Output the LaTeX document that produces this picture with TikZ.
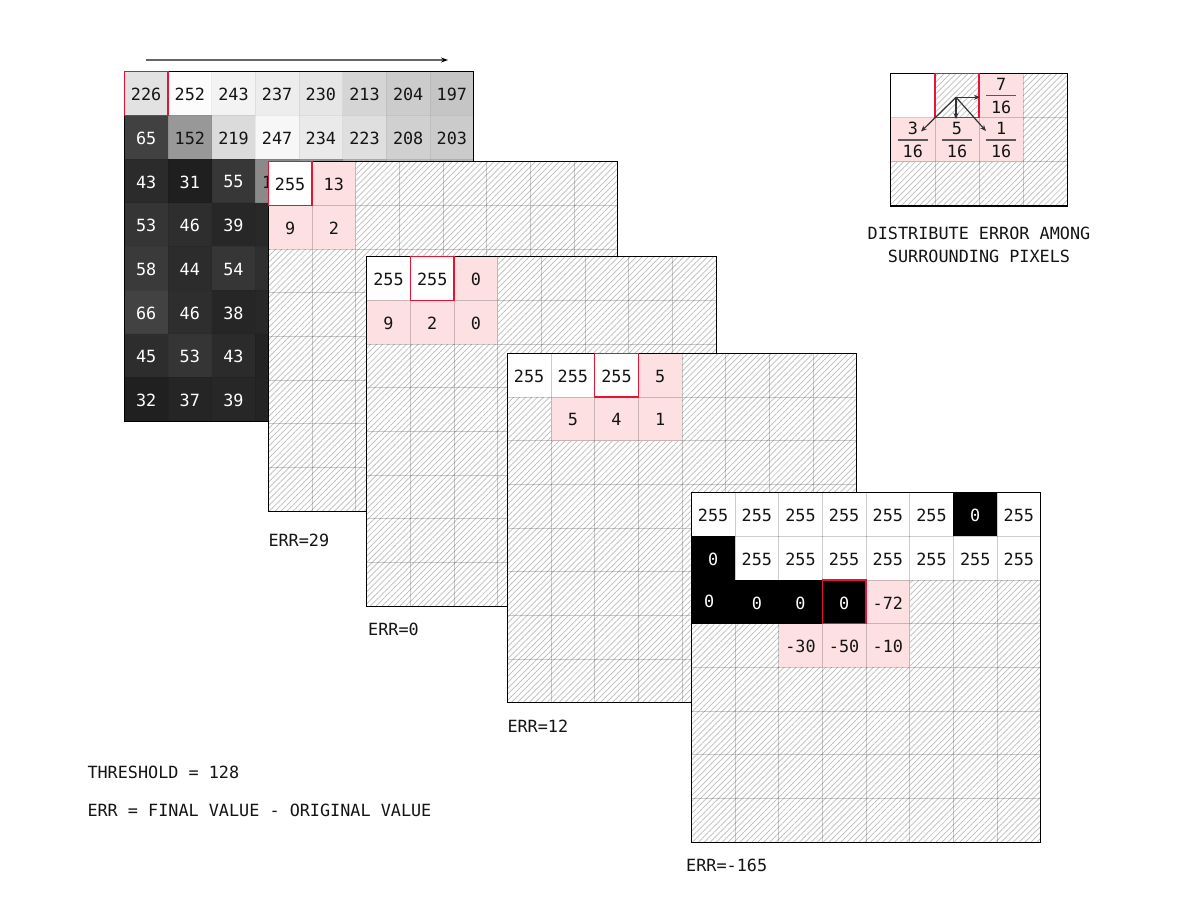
\documentclass[tikz,border=0pt]{standalone}
\usepackage{fontspec}
\setmonofont{DejaVu Sans Mono}
\usetikzlibrary{patterns.meta,arrows.meta}
\definecolor{pinkc}{RGB}{253,224,225}
\definecolor{redc}{RGB}{230,20,50}
\definecolor{hatchc}{RGB}{188,188,188}
\definecolor{txt}{RGB}{20,20,20}
\definecolor{arrc}{RGB}{100,100,100}
\def\CS{43.675}
\def\GS{349.4}
\tikzset{
  num/.style={font=\ttfamily\fontsize{16.8}{19}\selectfont, text=txt, inner sep=0pt, yshift=-1pt},
  lbl/.style={font=\ttfamily\fontsize{16.8}{19}\selectfont, text=txt, inner sep=0pt, anchor=west},
  hatchfill/.style={pattern={Lines[angle=45,distance=4.2pt,line width=0.7pt]}, pattern color=hatchc},
  gridln/.style={draw=black, draw opacity=0.2, line width=0.8pt},
  faintln/.style={draw=black, draw opacity=0.06, line width=0.8pt},
  outerln/.style={draw=black, line width=1.2pt},
  redbox/.style={draw=redc, line width=1.5pt},
  errarrow/.style={draw=black!80, line width=1.2pt, -{Stealth[length=6pt,width=5pt]}},
  toparrow/.style={draw=arrc, line width=1.6pt, -{Stealth[length=7pt,width=5pt,color=black]}},
  fracbar/.style={draw=black!65, line width=1.8pt},
}
\newcommand\GBase[2]{\fill[white] (#1,#2) rectangle ++(\GS,\GS); \fill[hatchfill] (#1,#2) rectangle ++(\GS,\GS);}
\newcommand\GCell[5]{\fill[#5] ({#1+#3*\CS},{#2+#4*\CS}) rectangle ++(\CS,\CS);}
\newcommand\GLines[2]{\foreach \i in {1,...,7}{\draw[gridln] ({#1+\i*\CS},#2) -- ++(0,\GS); \draw[gridln] (#1,{#2+\i*\CS}) -- ++(\GS,0);} \draw[outerln] (#1,#2) rectangle ++(\GS,\GS);}
\newcommand\GVal[7]{\node[num,text=#6] (#5) at ({#1+(#3+0.5)*\CS},{#2+(#4+0.5)*\CS}) {#7};}
\newcommand\GRed[4]{\draw[redbox] ({#1+#3*\CS},{#2+#4*\CS}) rectangle ++(\CS,\CS);}
\begin{document}
\begin{tikzpicture}[x=1pt,y=-1pt]
\useasboundingbox (0,0) rectangle (1200,905);
\fill[white] (0,0) rectangle (1200,905);

% top arrow
\coordinate (arS) at (146,60);
\coordinate (arE) at (448,60);
\draw[toparrow] (arS) -- (arE);

% ---------- grid 1 (original image) ----------
\def\ox{124.3}\def\oy{71.7}
\foreach \rowvals [count=\r from 0] in {
  {226,252,243,237,230,213,204,197},
  {65,152,219,247,234,223,208,203},
  {43,31,55,138,150,180,190,185},
  {53,46,39,41,60,70,80,90},
  {58,44,54,47,60,70,80,90},
  {66,46,38,40,60,70,80,90},
  {45,53,43,35,60,70,80,90},
  {32,37,39,36,60,70,80,90}} {
  \foreach \v [count=\c from 0] in \rowvals {
    \definecolor{cellc}{RGB}{\v,\v,\v}
    \fill[cellc] ({\ox+\c*\CS},{\oy+\r*\CS}) rectangle ++(\CS,\CS);
  }
}
\foreach \i in {1,...,7}{\draw[faintln] ({\ox+\i*\CS},\oy) -- ++(0,\GS); \draw[faintln] (\ox,{\oy+\i*\CS}) -- ++(\GS,0);}
% visible values only
\foreach \rowvals [count=\r from 0] in {
  {226,252,243,237,230,213,204,197},
  {65,152,219,247,234,223,208,203}} {
  \foreach \v [count=\c from 0] in \rowvals {
    \ifnum\v<128\relax\def\tcol{white}\else\def\tcol{txt}\fi
    \node[num,text=\tcol] (g1-\r-\c) at ({\ox+(\c+0.5)*\CS},{\oy+(\r+0.5)*\CS}) {\v};
  }
}
\foreach \rowvals [count=\r from 2] in {
  {43,31,55},{53,46,39},{58,44,54},{66,46,38},{45,53,43},{32,37,39}} {
  \foreach \v [count=\c from 0] in \rowvals {
    \node[num,text=white] (g1-\r-\c) at ({\ox+(\c+0.5)*\CS},{\oy+(\r+0.5)*\CS}) {\v};
  }
}
% first digit of the hidden value, peeking out from under grid 2
\node[num,text=txt,anchor=west] (g1-2-3) at ({\ox+3.5*\CS-15.2},{\oy+2.5*\CS}) {1};
\draw[outerln] (\ox,\oy) rectangle ++(\GS,\GS);
\GRed{\ox}{\oy}{0}{0}

% ---------- grid 2 ----------
\def\ox{268.3}\def\oy{161.7}
\GBase{\ox}{\oy}
\GCell{\ox}{\oy}{0}{0}{white}
\GCell{\ox}{\oy}{1}{0}{pinkc}
\GCell{\ox}{\oy}{0}{1}{pinkc}
\GCell{\ox}{\oy}{1}{1}{pinkc}
\GLines{\ox}{\oy}
\GVal{\ox}{\oy}{0}{0}{g2-0-0}{txt}{255}
\GVal{\ox}{\oy}{1}{0}{g2-0-1}{txt}{13}
\GVal{\ox}{\oy}{0}{1}{g2-1-0}{txt}{9}
\GVal{\ox}{\oy}{1}{1}{g2-1-1}{txt}{2}
\GRed{\ox}{\oy}{0}{0}
\node[lbl] (err1) at (268.3,540.7) {ERR=29};

% ---------- grid 3 ----------
\def\ox{366.7}\def\oy{256.7}
\GBase{\ox}{\oy}
\GCell{\ox}{\oy}{0}{0}{white}
\GCell{\ox}{\oy}{1}{0}{white}
\GCell{\ox}{\oy}{2}{0}{pinkc}
\GCell{\ox}{\oy}{0}{1}{pinkc}
\GCell{\ox}{\oy}{1}{1}{pinkc}
\GCell{\ox}{\oy}{2}{1}{pinkc}
\GLines{\ox}{\oy}
\GVal{\ox}{\oy}{0}{0}{g3-0-0}{txt}{255}
\GVal{\ox}{\oy}{1}{0}{g3-0-1}{txt}{255}
\GVal{\ox}{\oy}{2}{0}{g3-0-2}{txt}{0}
\GVal{\ox}{\oy}{0}{1}{g3-1-0}{txt}{9}
\GVal{\ox}{\oy}{1}{1}{g3-1-1}{txt}{2}
\GVal{\ox}{\oy}{2}{1}{g3-1-2}{txt}{0}
\GRed{\ox}{\oy}{1}{0}
\node[lbl] (err2) at (368,629.3) {ERR=0};

% ---------- grid 4 ----------
\def\ox{507.3}\def\oy{353.3}
\GBase{\ox}{\oy}
\GCell{\ox}{\oy}{0}{0}{white}
\GCell{\ox}{\oy}{1}{0}{white}
\GCell{\ox}{\oy}{2}{0}{white}
\GCell{\ox}{\oy}{3}{0}{pinkc}
\GCell{\ox}{\oy}{1}{1}{pinkc}
\GCell{\ox}{\oy}{2}{1}{pinkc}
\GCell{\ox}{\oy}{3}{1}{pinkc}
\GLines{\ox}{\oy}
\GVal{\ox}{\oy}{0}{0}{g4-0-0}{txt}{255}
\GVal{\ox}{\oy}{1}{0}{g4-0-1}{txt}{255}
\GVal{\ox}{\oy}{2}{0}{g4-0-2}{txt}{255}
\GVal{\ox}{\oy}{3}{0}{g4-0-3}{txt}{5}
\GVal{\ox}{\oy}{1}{1}{g4-1-1}{txt}{5}
\GVal{\ox}{\oy}{2}{1}{g4-1-2}{txt}{4}
\GVal{\ox}{\oy}{3}{1}{g4-1-3}{txt}{1}
\GRed{\ox}{\oy}{2}{0}
\node[lbl] (err3) at (507.3,726) {ERR=12};

% ---------- grid 5 ----------
\def\ox{691.3}\def\oy{492.7}
\GBase{\ox}{\oy}
\foreach \c in {0,...,5,7}{\GCell{\ox}{\oy}{\c}{0}{white}}
\GCell{\ox}{\oy}{6}{0}{black}
\GCell{\ox}{\oy}{0}{1}{black}
\foreach \c in {1,...,7}{\GCell{\ox}{\oy}{\c}{1}{white}}
\foreach \c in {0,...,3}{\GCell{\ox}{\oy}{\c}{2}{black}}
\GCell{\ox}{\oy}{4}{2}{pinkc}
\foreach \c in {2,3,4}{\GCell{\ox}{\oy}{\c}{3}{pinkc}}
\GLines{\ox}{\oy}
\foreach \c in {0,...,5,7}{\GVal{\ox}{\oy}{\c}{0}{g5-0-\c}{txt}{255}}
\GVal{\ox}{\oy}{6}{0}{g5-0-6}{white}{0}
\GVal{\ox}{\oy}{0}{1}{g5-1-0}{white}{0}
\foreach \c in {1,...,7}{\GVal{\ox}{\oy}{\c}{1}{g5-1-\c}{txt}{255}}
\node[num,text=white] (g5-2-0) at ({\ox+0.5*\CS-4},{\oy+2.5*\CS-2}) {0};
\foreach \c in {1,2,3}{\GVal{\ox}{\oy}{\c}{2}{g5-2-\c}{white}{0}}
\GVal{\ox}{\oy}{4}{2}{g5-2-4}{txt}{-72}
\GVal{\ox}{\oy}{2}{3}{g5-3-2}{txt}{-30}
\GVal{\ox}{\oy}{3}{3}{g5-3-3}{txt}{-50}
\GVal{\ox}{\oy}{4}{3}{g5-3-4}{txt}{-10}
\GRed{\ox}{\oy}{3}{2}
\node[lbl] (err4) at (686,865) {ERR=-165};

% ---------- inset ----------
\def\ix{890.7}\def\iy{73.3}\def\IC{44.2}
\fill[white] (\ix,\iy) rectangle ++({4*\IC},{3*\IC});
\fill[hatchfill] (\ix,\iy) rectangle ++({4*\IC},{3*\IC});
\fill[white] (\ix,\iy) rectangle ++(\IC,\IC);
\fill[pinkc] ({\ix+2*\IC},\iy) rectangle ++(\IC,\IC);
\fill[pinkc] (\ix,{\iy+\IC}) rectangle ++({3*\IC},\IC);
\foreach \i in {1,2,3}{\draw[gridln] ({\ix+\i*\IC},\iy) -- ++(0,{3*\IC});}
\foreach \i in {1,2}{\draw[gridln] (\ix,{\iy+\i*\IC}) -- ++({4*\IC},0);}
\draw[outerln] (\ix,\iy) rectangle ++({4*\IC},{3*\IC});
\draw[redbox] ({\ix+\IC},\iy) rectangle ++(\IC,\IC);
% fractions
\foreach \n/\c/\r in {7/2/0,3/0/1,5/1/1,1/2/1}{
  \coordinate (fc-\n) at ({\ix+(\c+0.5)*\IC},{\iy+(\r+0.5)*\IC});
  \node[num,yshift=1pt] (fn-\n) at ([yshift=11.5pt]fc-\n) {\n};
  \node[num,yshift=1pt] (fd-\n) at ([yshift=-11.5pt]fc-\n) {16};
  \draw[fracbar] ([xshift=-15pt]fc-\n) -- ([xshift=15pt]fc-\n);
}
\coordinate (src) at (956,97.3);
\coordinate (tR) at (980,97.3);
\coordinate (tD) at (956,119);
\coordinate (tL) at (921,131.5);
\coordinate (tRD) at (986,131);
\draw[errarrow] (src) -- (tR);
\draw[errarrow] (src) -- (tD);
\draw[errarrow] (src) -- (tL);
\draw[errarrow] (src) -- (tRD);
\node[num,anchor=center,yshift=1pt] (dist1) at (979,233.3) {DISTRIBUTE ERROR AMONG};
\node[num,anchor=center,yshift=1pt] (dist2) at (979,256.7) {SURROUNDING PIXELS};

% bottom notes
\node[lbl] (thr) at (87.3,772.7) {THRESHOLD = 128};
\node[lbl] (errdef) at (87.3,810.7) {ERR = FINAL VALUE - ORIGINAL VALUE};
\end{tikzpicture}
\end{document}
